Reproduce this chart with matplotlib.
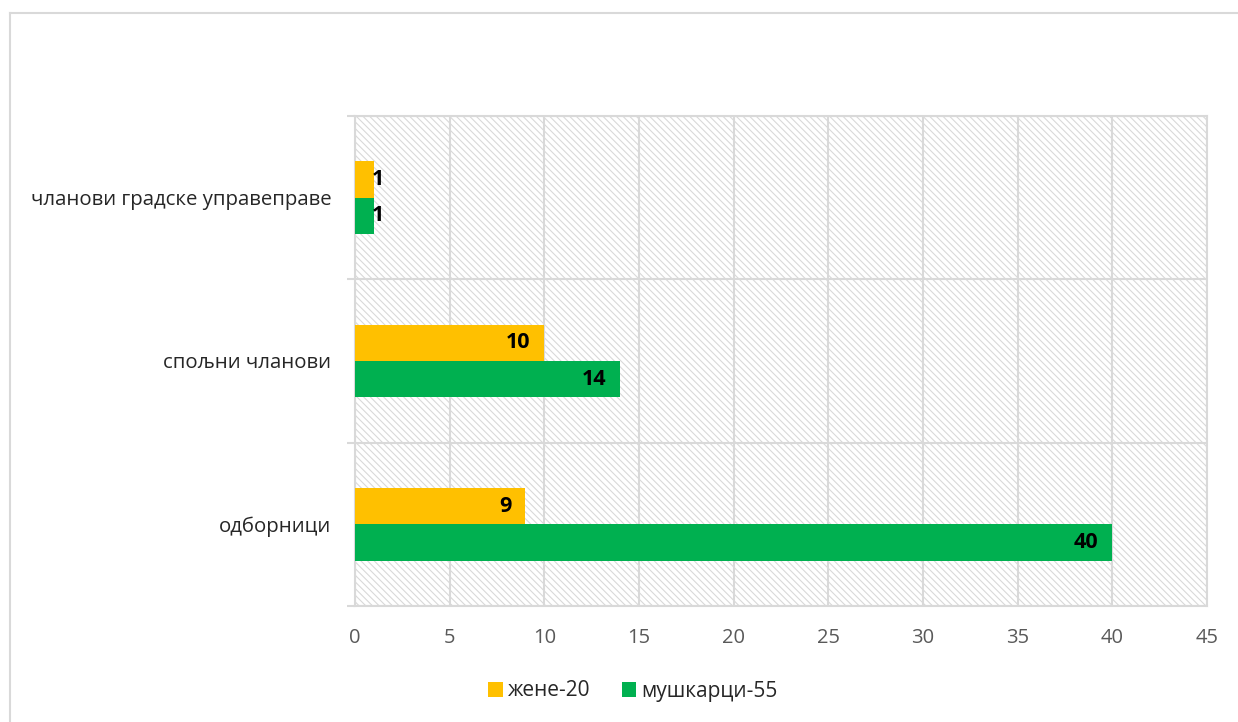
import matplotlib
matplotlib.use("Agg")
import matplotlib.pyplot as plt
from matplotlib.patches import Rectangle
from matplotlib.lines import Line2D
import numpy as np

# Подаци (одоздо према горе)
categories = ["одборници", "спољни чланови", "чланови градске управеправе"]
zene = [9, 10, 1]
muskarci = [40, 14, 1]
series_names = ["жене-20", "мушкарци-55"]
xticks = [0, 5, 10, 15, 20, 25, 30, 35, 40, 45]

YELLOW = "#FFC000"
GREEN = "#00B050"
GRID = "#D9D9D9"

plt.rcParams["font.family"] = ["Open Sans", "DejaVu Sans"]
plt.rcParams["hatch.linewidth"] = 0.8

fig = plt.figure(figsize=(12.38, 7.22), dpi=100)
ax = fig.add_axes([355 / 1238, 1 - 606 / 722, (1207 - 355) / 1238, (606 - 116) / 722])

y = np.arange(len(categories))
h = 0.222

# шрафирана позадина
bg = Rectangle((0, 0), 1, 1, transform=ax.transAxes, facecolor="white",
               edgecolor=GRID, hatch="\\\\\\\\\\", linewidth=0, zorder=0)
ax.add_patch(bg)

bars_z = ax.barh(y + h / 2, zene, height=h, color=YELLOW, label=series_names[0], zorder=3)
bars_m = ax.barh(y - h / 2, muskarci, height=h, color=GREEN, label=series_names[1], zorder=3)

# ознаке вредности
for bars, vals in [(bars_z, zene), (bars_m, muskarci)]:
    for b, v in zip(bars, vals):
        cy = b.get_y() + b.get_height() / 2
        if v < 3:
            ax.annotate(str(v), (v, cy), xytext=(-1.5, 0), textcoords="offset points",
                        ha="left", va="center", fontsize=15.5, fontweight="bold", color="black", zorder=4)
        else:
            ax.annotate(str(v), (v, cy), xytext=(-10, 0), textcoords="offset points",
                        ha="right", va="center", fontsize=15.5, fontweight="bold", color="black", zorder=4)

ax.set_xlim(0, 45)
ax.set_ylim(-0.5, len(categories) - 0.5)
ax.set_xticks(xticks)
ax.set_yticks(y)
ax.set_yticklabels(categories)
ax.set_yticks(np.arange(-0.5, len(categories)), minor=True)

ax.grid(axis="x", color=GRID, linewidth=1.5, zorder=1)
ax.grid(axis="y", which="minor", color=GRID, linewidth=1.5, zorder=1)
ax.set_axisbelow(True)

for s in ax.spines.values():
    s.set_color(GRID)
    s.set_linewidth(1.5)

ax.tick_params(axis="x", length=0, pad=16, labelsize=14.5, labelcolor="#595959")
ax.tick_params(axis="y", which="major", length=0, pad=17, labelsize=14.7, labelcolor="#262626")
ax.tick_params(axis="y", which="minor", length=6, width=1.5, color=GRID)

fig.legend(handles=[bars_z, bars_m], labels=series_names, loc="center",
           bbox_to_anchor=(633 / 1238, 1 - 691 / 722), ncol=2, frameon=False,
           fontsize=15, handlelength=0.7, handleheight=0.7, handletextpad=0.25,
           columnspacing=1.5, labelcolor="#262626")

# оквир графикона (горња и лева ивица)
fx = 9.5 / 1238
fy = 1 - 12.5 / 722
fig.add_artist(Line2D([fx, 1.0], [fy, fy], transform=fig.transFigure, color=GRID, linewidth=1.5))
fig.add_artist(Line2D([fx, fx], [0.0, fy], transform=fig.transFigure, color=GRID, linewidth=1.5))

fig.savefig("out.png", dpi=100)
